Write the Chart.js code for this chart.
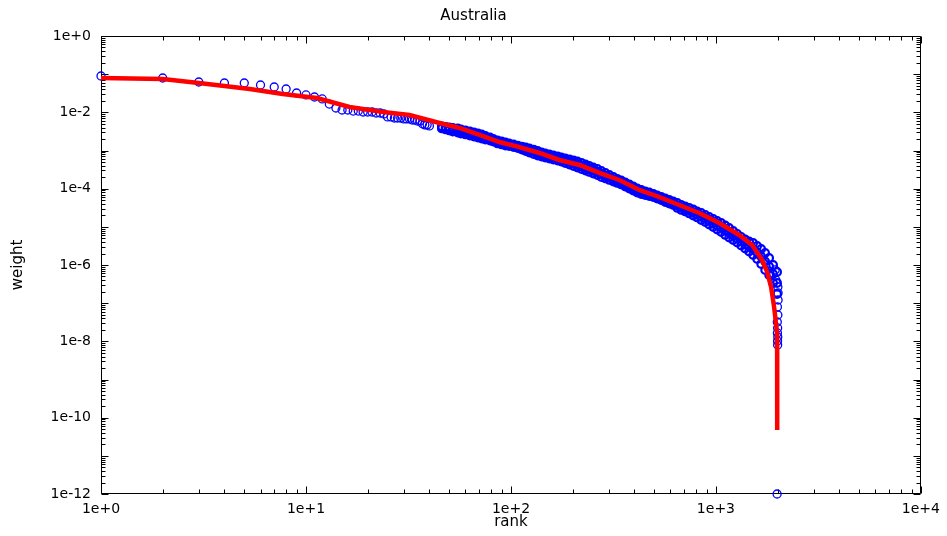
<!DOCTYPE html>
<html>
<head>
<meta charset="utf-8">
<title>Australia</title>
<script src="https://cdn.jsdelivr.net/npm/chart.js@4.4.1/dist/chart.umd.min.js"></script>
<style>
  html, body { margin: 0; padding: 0; background: #fff; }
  #wrap { width: 947px; height: 536px; }
</style>
</head>
<body>
<div id="wrap"><canvas id="chart" width="947" height="536"></canvas></div>
<script>
// rank / weight values

// ranks 1..40, one point each
const headRanks = [1, 2, 3, 4, 5, 6, 7, 8, 9, 10, 11, 12, 13, 14, 15, 16, 17, 18, 19, 20,
  21, 22, 23, 24, 25, 26, 27, 28, 29, 30, 31, 32, 33, 34, 35, 36, 37, 38, 39, 40];
const headWeights = [0.0896, 0.0794, 0.0624, 0.0587, 0.0587, 0.052, 0.0461, 0.0409, 0.0321, 0.0285,
  0.0252, 0.0224, 0.0165, 0.013, 0.0115, 0.0115, 0.0108, 0.0108, 0.0102, 0.0102,
  0.0102, 0.0096, 0.0096, 0.0091, 0.0076, 0.0076, 0.0071, 0.0071, 0.0071, 0.0067,
  0.0067, 0.0067, 0.0063, 0.0063, 0.0059, 0.0059, 0.005, 0.0047, 0.0047, 0.0044];

// dense part of the cloud: upper edge, middle and lower edge of the band
const bandRanks = [46, 48, 50, 52, 55, 57, 60, 63, 66, 69, 72, 75, 79, 82, 86, 90, 94, 98,
  103, 108, 113, 118, 123, 129, 135, 141, 147, 154, 161, 169, 176, 184, 193, 202, 211,
  221, 231, 241, 252, 264, 276, 289, 302, 316, 330, 345, 361, 378, 395, 413, 432, 452,
  473, 495, 517, 541, 566, 592, 619, 648, 677, 708, 741, 775, 810, 848, 887, 927, 970,
  1014, 1061, 1110, 1160, 1214, 1270, 1328, 1389, 1452, 1519, 1589, 1662, 1738, 1818,
  1901, 1988];
const bandHigh = [4.26e-3, 4.13e-3, 4.01e-3, 3.89e-3, 3.78e-3, 3.56e-3, 3.35e-3, 3.15e-3,
  2.96e-3, 2.79e-3, 2.63e-3, 2.40e-3, 2.19e-3, 2.00e-3, 1.83e-3, 1.72e-3, 1.62e-3, 1.53e-3,
  1.44e-3, 1.35e-3, 1.27e-3, 1.20e-3, 1.13e-3, 1.06e-3, 9.71e-4, 8.87e-4, 8.35e-4, 7.86e-4,
  7.40e-4, 6.97e-4, 6.56e-4, 6.18e-4, 5.81e-4, 5.47e-4, 5.15e-4, 4.70e-4, 4.30e-4, 3.93e-4,
  3.59e-4, 3.28e-4, 2.90e-4, 2.58e-4, 2.28e-4, 2.02e-4, 1.79e-4, 1.64e-4, 1.45e-4, 1.29e-4,
  1.14e-4, 1.01e-4, 9.23e-5, 8.44e-5, 7.94e-5, 7.25e-5, 6.63e-5, 6.05e-5, 5.53e-5, 5.05e-5,
  4.61e-5, 4.22e-5, 3.74e-5, 3.41e-5, 3.12e-5, 2.85e-5, 2.53e-5, 2.31e-5, 2.04e-5, 1.81e-5,
  1.61e-5, 1.42e-5, 1.26e-5, 1.09e-5, 9.33e-6, 7.79e-6, 6.50e-6, 5.42e-6, 4.66e-6, 4.13e-6,
  3.77e-6, 3.15e-6, 2.63e-6, 2.07e-6, 1.53e-6, 1.0e-6, 6.56e-7];
const bandMid = [4.01e-3, 3.83e-3, 3.66e-3, 3.50e-3, 3.35e-3, 3.15e-3, 2.96e-3, 2.79e-3,
  2.63e-3, 2.47e-3, 2.33e-3, 2.16e-3, 2.00e-3, 1.86e-3, 1.67e-3, 1.57e-3, 1.48e-3, 1.42e-3,
  1.33e-3, 1.25e-3, 1.16e-3, 1.08e-3, 1.0e-3, 9.28e-4, 8.47e-4, 7.86e-4, 7.40e-4, 6.97e-4,
  6.56e-4, 6.18e-4, 5.81e-4, 5.39e-4, 5.00e-4, 4.63e-4, 4.30e-4, 3.93e-4, 3.59e-4, 3.28e-4,
  2.99e-4, 2.74e-4, 2.43e-4, 2.18e-4, 1.96e-4, 1.77e-4, 1.59e-4, 1.45e-4, 1.29e-4, 1.14e-4,
  1.01e-4, 8.96e-5, 8.18e-5, 7.59e-5, 7.15e-5, 6.63e-5, 6.05e-5, 5.53e-5, 4.98e-5, 4.55e-5,
  4.15e-5, 3.62e-5, 3.21e-5, 2.93e-5, 2.64e-5, 2.38e-5, 2.11e-5, 1.87e-5, 1.66e-5, 1.44e-5,
  1.26e-5, 1.10e-5, 9.62e-6, 8.15e-6, 7.00e-6, 5.93e-6, 5.03e-6, 4.20e-6, 3.55e-6, 3.06e-6,
  2.63e-6, 2.13e-6, 1.67e-6, 1.24e-6, 9.15e-7, 5.82e-7, 3.38e-7];
const bandLow = [3.78e-3, 3.56e-3, 3.35e-3, 3.15e-3, 2.96e-3, 2.79e-3, 2.63e-3, 2.47e-3,
  2.33e-3, 2.19e-3, 2.06e-3, 1.94e-3, 1.83e-3, 1.72e-3, 1.53e-3, 1.44e-3, 1.35e-3, 1.31e-3,
  1.23e-3, 1.16e-3, 1.06e-3, 9.71e-4, 8.87e-4, 8.10e-4, 7.40e-4, 6.97e-4, 6.56e-4, 6.18e-4,
  5.81e-4, 5.47e-4, 5.15e-4, 4.70e-4, 4.30e-4, 3.93e-4, 3.59e-4, 3.28e-4, 2.99e-4, 2.74e-4,
  2.50e-4, 2.28e-4, 2.02e-4, 1.85e-4, 1.69e-4, 1.54e-4, 1.41e-4, 1.29e-4, 1.14e-4, 1.01e-4,
  8.96e-5, 7.94e-5, 7.25e-5, 6.83e-5, 6.43e-5, 6.05e-5, 5.53e-5, 5.05e-5, 4.48e-5, 4.09e-5,
  3.74e-5, 3.12e-5, 2.77e-5, 2.53e-5, 2.24e-5, 1.98e-5, 1.76e-5, 1.51e-5, 1.34e-5, 1.15e-5,
  9.91e-6, 8.52e-6, 7.33e-6, 6.12e-6, 5.26e-6, 4.52e-6, 3.89e-6, 3.24e-6, 2.71e-6, 2.26e-6,
  1.83e-6, 1.44e-6, 1.06e-6, 7.41e-7, 5.48e-7, 3.38e-7, 1.74e-7];

// last points where the weights fall off
const tailRanks = [1944, 1960, 2005, 2010, 2010, 1995, 2005, 1992, 2000, 1995, 2003, 1998, 2000, 1988];
const tailWeights = [7.41e-7, 4.05e-7, 2.66e-7, 1.85e-7, 1.21e-7, 7.95e-8, 4.9e-8, 3.21e-8,
  2.24e-8, 1.66e-8, 1.3e-8, 1.02e-8, 8.0e-9, 1e-12];

// fitted curve (red)
const fitRanks = [1, 2, 3, 4, 5.32, 7.7, 11.3, 16.3, 23.7, 32, 44.8, 56.1, 70.2, 87.9, 110,
  137.7, 172.3, 215.7, 270, 337.9, 422.7, 529, 662, 828.5, 1037, 1298, 1502, 1680, 1777,
  1858, 1922, 1988, 1990];
const fitWeights = [0.0794, 0.0747, 0.0587, 0.049, 0.0409, 0.0302, 0.0238, 0.0138, 0.0102,
  0.00852, 0.00526, 0.00389, 0.00255, 0.00167, 0.00123, 8.6e-4, 5.64e-4, 4.17e-4, 2.58e-4,
  1.69e-4, 9.23e-5, 6.05e-5, 3.74e-5, 2.31e-5, 1.26e-5, 6.12e-6, 3.35e-6, 1.35e-6, 6.56e-7,
  2.66e-7, 7.95e-8, 1.66e-8, 4.76e-11];

// axis ticks
const xDecades = [1, 10, 100, 1000, 10000];
const yLabelled = [1e-12, 1e-10, 1e-8, 1e-6, 1e-4, 1e-2, 1];

const FONT = 'DejaVu Sans';

function toPoints(xs, ys) {
  return xs.map((x, i) => ({ x: x, y: ys[i] }));
}

function expLabel(v) {
  const e = Math.round(Math.log10(v));
  return '1e' + (e >= 0 ? '+' : '') + e;
}

// every 1..9 multiple inside the range of a log axis
function logTickValues(minExp, maxExp) {
  const out = [];
  for (let e = minExp; e < maxExp; e++) {
    for (let m = 1; m <= 9; m++) out.push({ v: m * Math.pow(10, e), major: m === 1 });
  }
  out.push({ v: Math.pow(10, maxExp), major: true });
  return out;
}

/**
 * Box around the plot with gnuplot-style inward ticks on all four sides
 */
const frameTicks = {
  id: 'frameTicks',
  beforeDatasetsDraw(chart) {
    const { ctx, chartArea: a, scales } = chart;
    const L = Math.round(a.left) + 0.5, R = Math.round(a.right) - 0.5;
    const T = Math.round(a.top) + 0.5, B = Math.round(a.bottom) - 0.5;
    ctx.save();
    ctx.strokeStyle = '#000';
    ctx.lineWidth = 1;
    ctx.beginPath();
    ctx.rect(L, T, R - L, B - T);

    logTickValues(0, 4).forEach(t => {
      const px = Math.round(scales.x.getPixelForValue(t.v)) + 0.5;
      const len = t.major ? 7 : 4;
      ctx.moveTo(px, B); ctx.lineTo(px, B - len);
      ctx.moveTo(px, T); ctx.lineTo(px, T + len);
    });
    logTickValues(-12, 0).forEach(t => {
      const py = Math.round(scales.y.getPixelForValue(t.v)) + 0.5;
      const len = t.major ? 7 : 4;
      ctx.moveTo(L, py); ctx.lineTo(L + len, py);
      ctx.moveTo(R, py); ctx.lineTo(R - len, py);
    });
    ctx.stroke();
    ctx.restore();
  }
};

// open circles; the band ones get a heavier ring because thousands overlap there
const circleStyle = {
  showLine: false,
  pointStyle: 'circle',
  pointRadius: 4,
  pointBorderWidth: 1.3,
  borderColor: '#0000ff',
  pointBorderColor: '#0000ff',
  backgroundColor: 'rgba(0,0,0,0)',
  pointBackgroundColor: 'rgba(0,0,0,0)',
  clip: false
};
const bandStyle = Object.assign({}, circleStyle, { pointRadius: 3.8, pointBorderWidth: 2.2 });

new Chart(document.getElementById('chart'), {
  type: 'scatter',
  data: {
    datasets: [
      {
        label: 'fit',
        data: toPoints(fitRanks, fitWeights),
        showLine: true,
        borderColor: '#ff0000',
        borderWidth: 4.5,
        pointRadius: 0,
        tension: 0,
        clip: false
      },
      Object.assign({ label: 'head', data: toPoints(headRanks, headWeights) }, circleStyle),
      Object.assign({ label: 'band high', data: toPoints(bandRanks, bandHigh) }, bandStyle),
      Object.assign({ label: 'band mid', data: toPoints(bandRanks, bandMid) }, bandStyle),
      Object.assign({ label: 'band low', data: toPoints(bandRanks, bandLow) }, bandStyle),
      Object.assign({ label: 'tail', data: toPoints(tailRanks, tailWeights) }, circleStyle)
    ]
  },
  options: {
    responsive: false,
    animation: false,
    devicePixelRatio: 1,
    events: [],
    layout: { padding: 0 },
    plugins: {
      legend: { display: false },
      tooltip: { enabled: false },
      title: {
        display: true,
        text: 'Australia',
        color: '#000',
        font: { family: FONT, size: 15, weight: 'normal' },
        padding: { top: 7, bottom: 11 }
      }
    },
    scales: {
      x: {
        type: 'logarithmic',
        position: 'bottom',
        min: 1,
        max: 10000,
        grid: { display: false, drawTicks: false },
        border: { display: false },
        afterBuildTicks: s => { s.ticks = xDecades.map(v => ({ value: v })); },
        afterFit: s => { s.height = 42; },
        ticks: {
          autoSkip: false,
          maxRotation: 0,
          padding: 7,
          color: '#000',
          font: { family: FONT, size: 14 },
          callback: v => expLabel(v)
        },
        title: {
          display: true,
          text: 'rank',
          color: '#000',
          font: { family: FONT, size: 15 },
          padding: { top: 0, bottom: 5 }
        }
      },
      y: {
        type: 'logarithmic',
        position: 'left',
        min: 1e-12,
        max: 1,
        grid: { display: false, drawTicks: false },
        border: { display: false },
        afterBuildTicks: s => { s.ticks = yLabelled.map(v => ({ value: v })); },
        afterFit: s => { s.width = 101; },
        ticks: {
          autoSkip: false,
          padding: 10,
          color: '#000',
          font: { family: FONT, size: 14 },
          callback: v => expLabel(v)
        },
        title: {
          display: true,
          text: 'weight',
          color: '#000',
          font: { family: FONT, size: 15 },
          padding: { top: 9, bottom: 0 }
        }
      },
      // empty right-hand strip so the plot stops at the same place as the reference
      spacer: {
        type: 'linear',
        position: 'right',
        display: true,
        grid: { display: false, drawTicks: false },
        border: { display: false },
        ticks: { display: false },
        afterFit: s => { s.width = 25; }
      }
    }
  },
  plugins: [frameTicks]
});
</script>
</body>
</html>
